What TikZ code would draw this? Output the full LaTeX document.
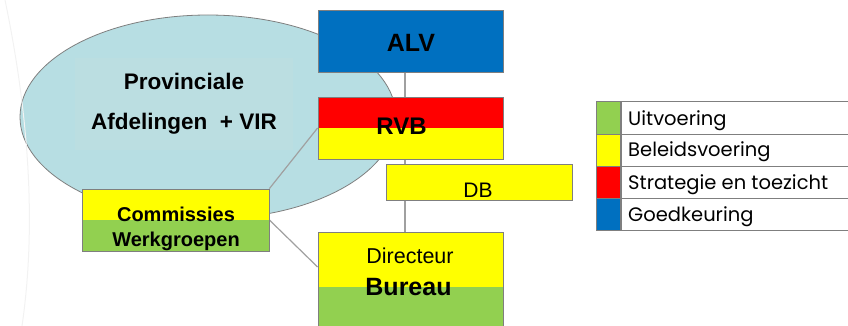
\documentclass[tikz,border=0pt]{standalone}
\usepackage{fontspec}
\setmainfont{Liberation Sans}
\newfontfamily\legendfont{Poppins}
\usetikzlibrary{shapes.geometric,backgrounds}
\definecolor{alvblue}{RGB}{0,112,192}
\definecolor{boxred}{RGB}{255,0,0}
\definecolor{boxyellow}{RGB}{255,255,0}
\definecolor{boxgreen}{RGB}{146,208,80}
\definecolor{ovalblue}{RGB}{183,222,227}
\definecolor{textpane}{RGB}{187,222,225}
\definecolor{edgegray}{RGB}{127,127,127}
\definecolor{linkgray}{RGB}{160,160,160}

\tikzset{
  orgbox/.style={draw=edgegray, line width=0.8pt, rectangle, inner sep=0pt},
  twotone/.style 2 args={orgbox, fill=#2,
    path picture={\fill[#1] (path picture bounding box.north west) rectangle (path picture bounding box.east);}},
  link/.style={draw=linkgray, line width=1.2pt},
  keycell/.style={draw=edgegray, line width=0.8pt, rectangle, inner sep=0pt, minimum height=32pt, anchor=north west},
  orgtext/.style={inner sep=0pt, align=center},
}

\begin{document}
\begin{tikzpicture}[x=1pt, y=-1pt]
    \useasboundingbox (0,0) rectangle (848,326);

    % faint slide decoration
    \draw[color=black!5, line width=1pt] (5,0) .. controls (30,120) and (36,230) .. (22,326);

    % boxes
    \node[orgbox, fill=alvblue, minimum width=185pt, minimum height=62pt] (alv) at (410.5,41) {};
    \node[twotone={boxred}{boxyellow}, minimum width=185pt, minimum height=62pt] (rvb) at (410.5,128) {};
    \node[orgbox, fill=boxyellow, minimum width=186pt, minimum height=36pt] (db) at (479,182) {};
    \node[twotone={boxyellow}{boxgreen}, minimum width=185pt, minimum height=110pt] (bur) at (410.5,287) {};
    \node[twotone={boxyellow}{boxgreen}, minimum width=187pt, minimum height=62pt] (com) at (175.5,220) {};

    % texts
    \node[orgtext, fill=textpane, minimum width=218pt, minimum height=92pt,
          font=\fontsize{22.5}{40}\selectfont\bfseries] (provtext) at (184,104) {Provinciale\\Afdelingen\ \ + VIR};
    \node[orgtext, anchor=base, font=\fontsize{25}{30}\selectfont\bfseries] (alvtext) at (411,52) {ALV};
    \node[orgtext, anchor=base, font=\fontsize{24}{29}\selectfont\bfseries] (rvbtext) at (401.5,135) {RVB};
    \node[orgtext, anchor=base, font=\fontsize{21}{25}\selectfont] (dbtext) at (478,197) {DB};
    \node[orgtext, anchor=base, font=\fontsize{21.5}{26}\selectfont] (dirtext) at (410,263) {Directeur};
    \node[orgtext, anchor=base, font=\fontsize{25}{30}\selectfont\bfseries] (burtext) at (408.5,295) {Bureau};
    \node[orgtext, font=\fontsize{20}{25}\selectfont\bfseries] (comtext) at (176,229) {Commissies\\Werkgroepen};

    % legend
    \foreach \i/\c/\t in {0/boxgreen/Uitvoering, 1/boxyellow/Beleidsvoering,
                          2/boxred/Strategie en toezicht, 3/alvblue/Goedkeuring} {
        \node[keycell, fill=\c, minimum width=24pt] (key\i) at ({596},{101.5+32*\i}) {};
        \node[keycell, minimum width=232pt] (entry\i) at (key\i.north east) {};
        \node[inner sep=0pt, anchor=base west, font=\legendfont\fontsize{19.5}{23}\selectfont] (entrytext\i)
            at ({628},{125+32*\i}) {\t};
    }

    % oval and connectors behind the boxes
    \begin{scope}[on background layer]
        \node[ellipse, draw=edgegray, line width=0.8pt, fill=ovalblue,
              minimum width=376pt, minimum height=204pt] (prov) at (208,117) {};
        \draw[link] ([xshift=-5.5pt]alv.south) -- ([xshift=-5.5pt]bur.north);
        \draw[link] (com.north east) -- (rvb.west);
        \draw[link] (com.east) -- ([yshift=20pt]bur.west);
    \end{scope}
\end{tikzpicture}
\end{document}
